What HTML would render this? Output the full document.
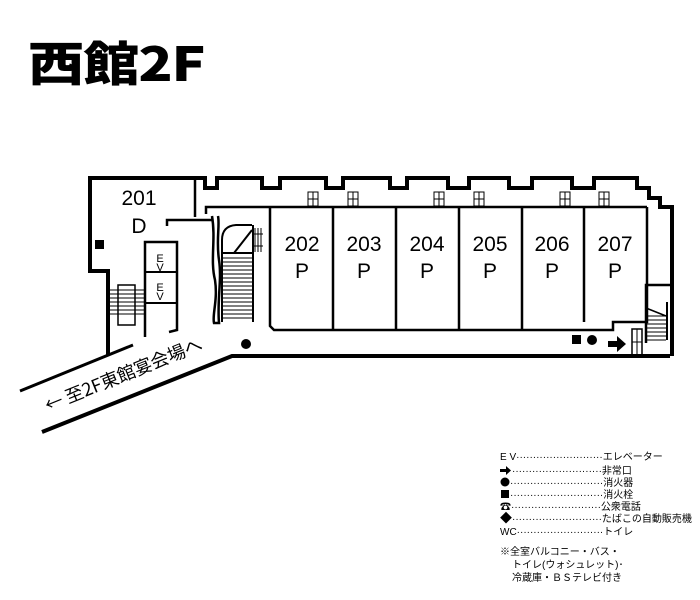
<!DOCTYPE html>
<html><head><meta charset="utf-8"><style>
html,body{margin:0;padding:0;background:#fff;}
svg{display:block;}
text{font-family:"Liberation Sans","Noto Sans CJK JP",sans-serif;fill:#000;}
.j{font-family:"Noto Sans CJK JP","Liberation Sans",sans-serif;}
</style></head><body>
<svg width="700" height="600" viewBox="0 0 700 600" xmlns="http://www.w3.org/2000/svg">
<text x="0" y="0" class="j" font-size="47" font-weight="900" transform="translate(28,81) scale(1.2,1)" style="letter-spacing:-1px">西館2F</text>

<g fill="none" stroke="#000" stroke-linejoin="miter">
<polyline stroke-width="4" points="108,356 108,271 90,271 90,178 205,178 205,188 217,188 217,178 262,178 262,188 280,188 280,178 326,178 326,188 343,188 343,178 390,178 390,188 407,188 407,178 448,178 448,188 469,188 469,178 509,178 509,188 532,188 532,178 572,178 572,188 594,188 594,178 637,178 637,188 649,188 649,198 660,198 660,207 672,207 672,356"/>
<polyline stroke-width="4" points="670,356 232,356 42,432"/>
<line x1="133" y1="345" x2="20" y2="391" stroke-width="3"/>
<line x1="195" y1="178" x2="195" y2="217" stroke-width="2.5"/>
<polyline stroke-width="2.5" points="167,226 167,220 212,220"/>
<polyline stroke-width="2.5" points="206,214 206,207 647,207"/>
<path stroke-width="2.5" d="M212,216 C216,240 210,260 215,280 C218,300 212,315 214,323 L219,323 C217,300 222,280 219,260 C216,240 220,225 218,216"/>
<polyline stroke-width="2.5" points="270,207 270,326 274,330 613,330 613,322 647,322 647,207"/>
<g stroke-width="2.5">
<line x1="333" y1="207" x2="333" y2="330"/>
<line x1="396" y1="207" x2="396" y2="330"/>
<line x1="459" y1="207" x2="459" y2="330"/>
<line x1="522" y1="207" x2="522" y2="330"/>
<line x1="584" y1="207" x2="584" y2="322"/>
</g>
<polyline stroke-width="2.5" points="145,337 145,242 177,242 177,330 169,332"/>
<line x1="145" y1="272" x2="177" y2="272" stroke-width="2"/>
<line x1="145" y1="303" x2="177" y2="303" stroke-width="2"/>
<rect x="118" y="285" width="17" height="40" stroke-width="1.5"/>
<path stroke-width="2" d="M222,322 L222,240 Q222,226 236,225 L252,225 M253,225 L253,322 M222,253 L253,253 M234,253 L252,230"/>
<polyline stroke-width="2.5" points="646,343 646,285 672,285"/>
<line x1="667" y1="302" x2="667" y2="340" stroke-width="2"/>
<line x1="646" y1="308" x2="666" y2="316" stroke-width="1.5"/>
<rect x="632" y="329" width="10" height="27" stroke-width="1.5"/>
<line x1="637" y1="329" x2="637" y2="356" stroke-width="1"/>
<line x1="632" y1="342" x2="642" y2="342" stroke-width="1"/>
</g>
<g stroke="#000" stroke-width="1">
<path d="M223,258H252M223,262H252M223,266H252M223,270H252M223,274H252M223,278H252M223,282H252M223,286H252M223,290H252M223,294H252M223,298H252M223,302H252M223,306H252M223,310H252M223,314H252M223,318H252"/>
<path d="M110,290H145M110,294H145M110,298H145M110,302H145M110,306H145M110,310H145M110,314H145"/>
<path d="M647,316H666M647,320H666M647,324H666M647,328H666M647,332H666M647,336H666M647,340H666"/>
<path d="M255,228V252M258,228V252M261,228V252M253,234H263M253,246H263"/>
</g>
<g fill="#fff" stroke="#000" stroke-width="1">
<rect x="308" y="192" width="10" height="14"/><rect x="348" y="192" width="10" height="14"/>
<rect x="434" y="192" width="10" height="14"/><rect x="474" y="192" width="10" height="14"/>
<rect x="560" y="192" width="10" height="14"/><rect x="599" y="192" width="10" height="14"/>
<path d="M313,192V206M308,199H318M353,192V206M348,199H358M439,192V206M434,199H444M479,192V206M474,199H484M565,192V206M560,199H570M604,192V206M599,199H609"/>
</g>
<rect x="95" y="240" width="9" height="9" fill="#000"/>
<circle cx="246" cy="344" r="5" fill="#000"/>
<rect x="572" y="335" width="9" height="9" fill="#000"/>
<circle cx="592" cy="340" r="5" fill="#000"/>
<path d="M608,341h9v-5l9,8l-9,8v-5h-9z" fill="#000"/>
<g font-size="21" text-anchor="middle">
<text x="139" y="205">201</text><text x="139" y="233">D</text>
<text x="302" y="251">202</text><text x="302" y="278">P</text>
<text x="364" y="251">203</text><text x="364" y="278">P</text>
<text x="427" y="251">204</text><text x="427" y="278">P</text>
<text x="490" y="251">205</text><text x="490" y="278">P</text>
<text x="552" y="251">206</text><text x="552" y="278">P</text>
<text x="615" y="251">207</text><text x="615" y="278">P</text>
</g>
<g font-size="11" text-anchor="middle"><text x="160" y="262">E</text><text x="160" y="271">V</text><text x="160" y="291">E</text><text x="160" y="300">V</text></g>
<text class="j" font-size="18" transform="translate(48,412) rotate(-22)">←  至2F東館宴会場へ</text>
<g class="j" font-size="10">
<text x="500" y="460">E V··························エレベーター</text>
<path d="M500,469h6v-3l5,4.5l-5,4.5v-3h-6z" fill="#000"/>
<text x="512" y="474">···························非常口</text>
<circle cx="505" cy="482" r="4.5" fill="#000"/>
<text x="510" y="486">····························消火器</text>
<rect x="501" y="490" width="8" height="8" fill="#000"/>
<text x="510" y="498">····························消火栓</text>
<text x="500" y="510"><tspan font-size="11">☎</tspan>···························公衆電話</text>
<text x="500" y="522"><tspan font-size="12">◆</tspan>···························たばこの自動販売機</text>
<text x="500" y="535">WC··························トイレ</text>
<text x="500" y="555">※全室バルコニー・バス・</text>
<text x="512" y="568">トイレ(ウォシュレット)･</text>
<text x="512" y="581">冷蔵庫・ＢＳテレビ付き</text>
</g>
</svg>
</body></html>
